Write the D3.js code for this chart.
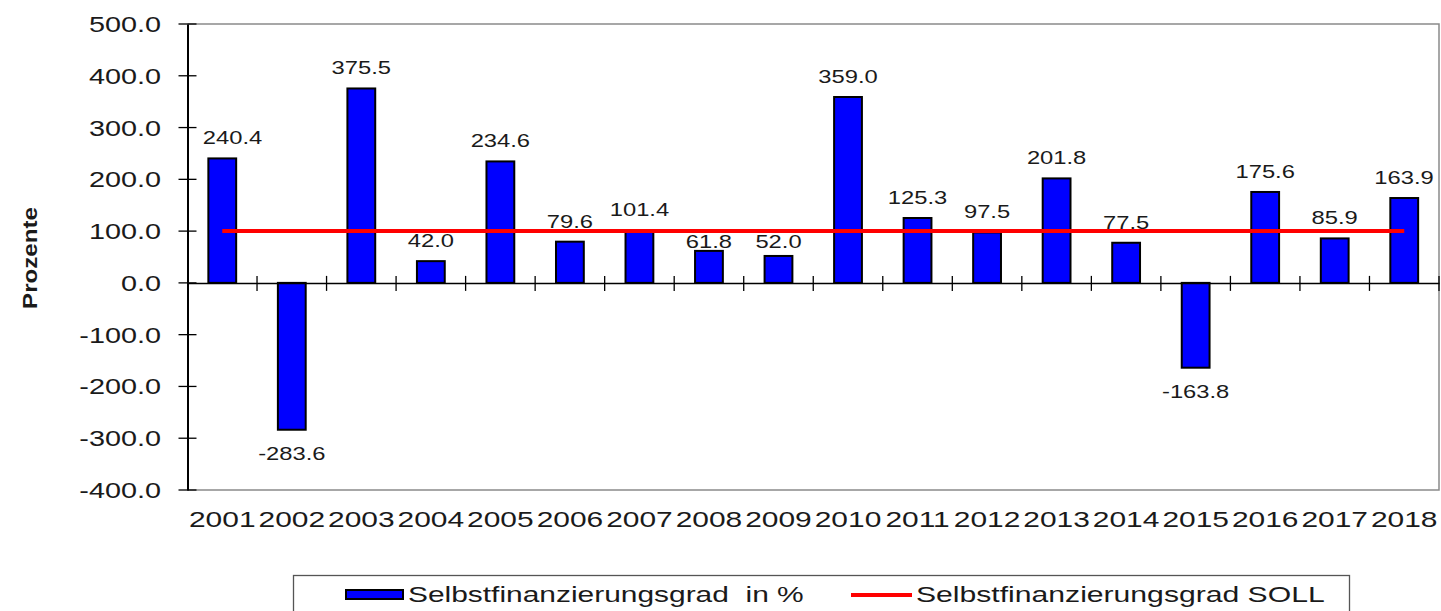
<!DOCTYPE html>
<html>
<head>
<meta charset="utf-8">
<script src="https://cdn.jsdelivr.net/npm/d3@7"></script>
<style>
  html, body { margin: 0; padding: 0; background: #fff; }
  svg { display: block; }
  text { font-family: "Liberation Sans", Arial, sans-serif; fill: #1a1a1a; white-space: pre; }
</style>
</head>
<body>
<svg id="chart" width="1441" height="611"></svg>
<script>
const years = ["2001","2002","2003","2004","2005","2006","2007","2008","2009","2010","2011","2012","2013","2014","2015","2016","2017","2018"];
const selbstfinanzierungsgrad = [240.4, -283.6, 375.5, 42.0, 234.6, 79.6, 101.4, 61.8, 52.0, 359.0, 125.3, 97.5, 201.8, 77.5, -163.8, 175.6, 85.9, 163.9];
const soll = [100, 100, 100, 100, 100, 100, 100, 100, 100, 100, 100, 100, 100, 100, 100, 100, 100, 100];
const yTicks = [-400, -300, -200, -100, 0, 100, 200, 300, 400, 500];
const yTitle = "Prozente";
const legendLabels = ["Selbstfinanzierungsgrad  in %", "Selbstfinanzierungsgrad SOLL"];

const svg = d3.select("#chart");
const pLeft = 187.5, pRight = 1439, pTop = 24, pBottom = 490;

const x = d3.scaleBand().domain(years).range([pLeft, pRight]).paddingInner(0).paddingOuter(0);
const y = d3.scaleLinear().domain([-400, 500]).range([pBottom, pTop]);
const fmt = v => d3.format(".1f")(v).replace("\u2212", "-");

// helper: horizontally stretched text
function stext(parent, px, py, str, opts) {
  const o = Object.assign({size: 20, sx: 1.3, anchor: "middle", weight: "normal", rotate: 0}, opts || {});
  const g = parent.append("g").attr("transform", `translate(${px},${py}) rotate(${o.rotate}) scale(${o.sx},1)`);
  g.append("text").attr("text-anchor", o.anchor).attr("font-size", o.size).attr("font-weight", o.weight).text(str);
  return g;
}

// plot frame (gray top/right/bottom)
svg.append("path")
  .attr("d", `M${pLeft},${pTop}H${pRight}V${pBottom}H${pLeft}`)
  .attr("fill", "none").attr("stroke", "#8a8a8a").attr("stroke-width", 1.5);

// bars
const bw = x.bandwidth();
svg.append("g").selectAll("rect").data(selbstfinanzierungsgrad).join("rect")
  .attr("x", (d, i) => x(years[i]) + bw * 0.3)
  .attr("width", bw * 0.4)
  .attr("y", d => y(Math.max(0, d)))
  .attr("height", d => Math.abs(y(d) - y(0)))
  .attr("fill", "#0000ff").attr("stroke", "#000").attr("stroke-width", 2);

// soll line
const line = d3.line().x((d, i) => x(years[i]) + bw / 2).y(d => y(d));
svg.append("path").datum(soll).attr("d", line)
  .attr("fill", "none").attr("stroke", "#ff0000").attr("stroke-width", 4);

// y axis
const yAxis = d3.axisLeft(y).tickValues(yTicks).tickSize(0).tickFormat("");
const ya = svg.append("g").attr("transform", `translate(${pLeft},0)`).call(yAxis);
ya.select(".domain").attr("stroke", "#000").attr("stroke-width", 2);
yTicks.forEach(t => {
  svg.append("line").attr("x1", pLeft - 9).attr("x2", pLeft + 9).attr("y1", y(t)).attr("y2", y(t))
    .attr("stroke", "#000").attr("stroke-width", 1.3);
  stext(svg, 161, y(t) + 8, fmt(t), {size: 22, sx: 1.31, anchor: "end"});
});

// x axis at zero
const xa = svg.append("g").attr("transform", `translate(0,${y(0)})`)
  .call(d3.axisBottom(x).tickSize(0).tickFormat(""));
xa.select(".domain").attr("stroke", "#000").attr("stroke-width", 1.5);
years.forEach((yr, i) => {
  const bx = x(yr);
  if (i > 0) svg.append("line").attr("x1", bx).attr("x2", bx).attr("y1", y(0) - 7).attr("y2", y(0) + 8)
    .attr("stroke", "#000").attr("stroke-width", 1.3);
  stext(svg, bx + bw / 2, 527, yr, {size: 22, sx: 1.36});
});
svg.append("line").attr("x1", pRight).attr("x2", pRight).attr("y1", y(0) - 7).attr("y2", y(0) + 8)
  .attr("stroke", "#000").attr("stroke-width", 1.3);

// value labels (kept inside plot, moved below the SOLL line if they would collide with it)
const ySoll = y(soll[0]);
selbstfinanzierungsgrad.forEach((v, i) => {
  let cx = x(years[i]) + bw / 2;
  let py = v >= 0 ? y(v) - 14 : y(v) + 30;
  if (v >= 0 && py - 14 <= ySoll + 2 && py >= ySoll - 2) py = ySoll + 17;
  const halfW = 29;
  cx = Math.max(cx, pLeft + 16 + halfW);
  cx = Math.min(cx, pRight - 6 - halfW);
  stext(svg, cx, py, fmt(v), {size: 19, sx: 1.25});
});

// y title
stext(svg, 37, 258, yTitle, {size: 21, sx: 1.15, weight: "bold", rotate: -90});

// legend
svg.append("rect").attr("x", 293.5).attr("y", 575.5).attr("width", 1056).attr("height", 50)
  .attr("fill", "#fff").attr("stroke", "#555").attr("stroke-width", 1.3);
svg.append("rect").attr("x", 346).attr("y", 590).attr("width", 57).attr("height", 9)
  .attr("fill", "#0000ff").attr("stroke", "#000").attr("stroke-width", 2);
stext(svg, 408, 602, legendLabels[0], {size: 22, sx: 1.36, anchor: "start"});
svg.append("line").attr("x1", 851).attr("x2", 912).attr("y1", 595).attr("y2", 595)
  .attr("stroke", "#ff0000").attr("stroke-width", 4);
stext(svg, 916, 602, legendLabels[1], {size: 22, sx: 1.37, anchor: "start"});
</script>
</body>
</html>
